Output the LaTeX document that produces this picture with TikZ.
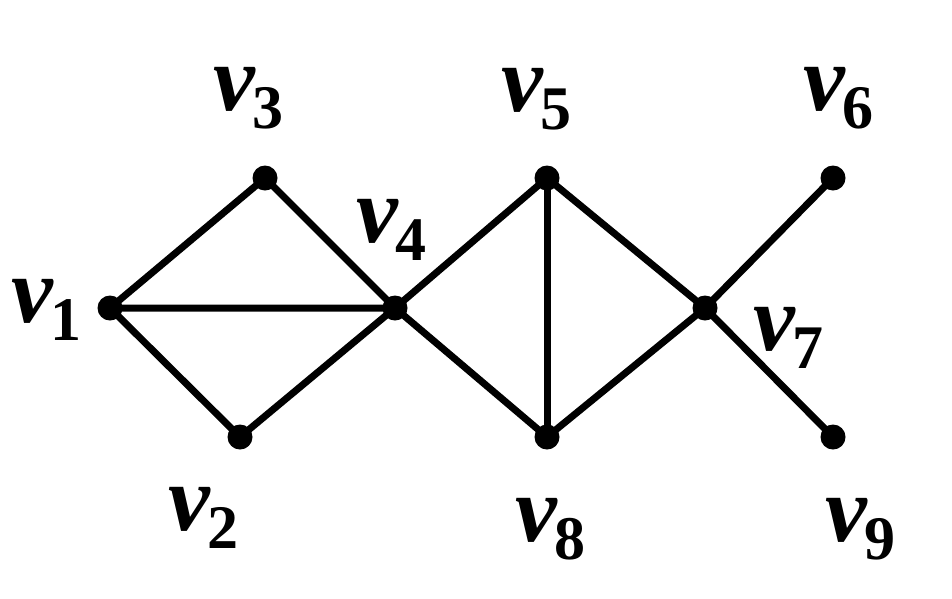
\documentclass[tikz,border=0pt]{standalone}
\usepackage{fontspec}
\setmainfont{Liberation Serif}
\newcommand{\vlab}[1]{{\fontsize{94}{94}\selectfont\bfseries\itshape v}\kern-2pt\raisebox{-18pt}{\fontsize{62}{62}\selectfont\bfseries #1}}
\begin{document}
\begin{tikzpicture}[x=1pt,y=-1pt,
  vtx/.style={circle,fill=black,inner sep=0pt,minimum size=25pt},
  edge/.style={line width=7pt},
  lab/.style={anchor=base west,inner sep=0pt}]
\useasboundingbox (0,0) rectangle (952,598);
\node[vtx] (v1) at (110,308) {};
\node[vtx] (v3) at (265,178) {};
\node[vtx] (v2) at (240,437) {};
\node[vtx] (v4) at (395,308) {};
\node[vtx] (v5) at (547,178) {};
\node[vtx] (v8) at (547,437) {};
\node[vtx] (v7) at (705,308) {};
\node[vtx] (v6) at (833,178) {};
\node[vtx] (v9) at (833,437) {};
\draw[edge] (v1.center) -- (v3.center) -- (v4.center) -- (v2.center) -- (v1.center) -- (v4.center);
\draw[edge] (v4.center) -- (v5.center) -- (v7.center) -- (v8.center) -- (v4.center);
\draw[edge] (v5.center) -- (v8.center);
\draw[edge] (v6.center) -- (v7.center) -- (v9.center);
\node[lab] (l1) at (11,322) {\vlab{1}};
\node[lab] (l2) at (168,530) {\vlab{2}};
\node[lab] (l3) at (213,110) {\vlab{3}};
\node[lab] (l4) at (356,242) {\vlab{4}};
\node[lab] (l5) at (501,111) {\vlab{5}};
\node[lab] (l6) at (803,110) {\vlab{6}};
\node[lab] (l7) at (753,350) {\vlab{7}};
\node[lab] (l8) at (515,541) {\vlab{8}};
\node[lab] (l9) at (825,541) {\vlab{9}};
\end{tikzpicture}
\end{document}
